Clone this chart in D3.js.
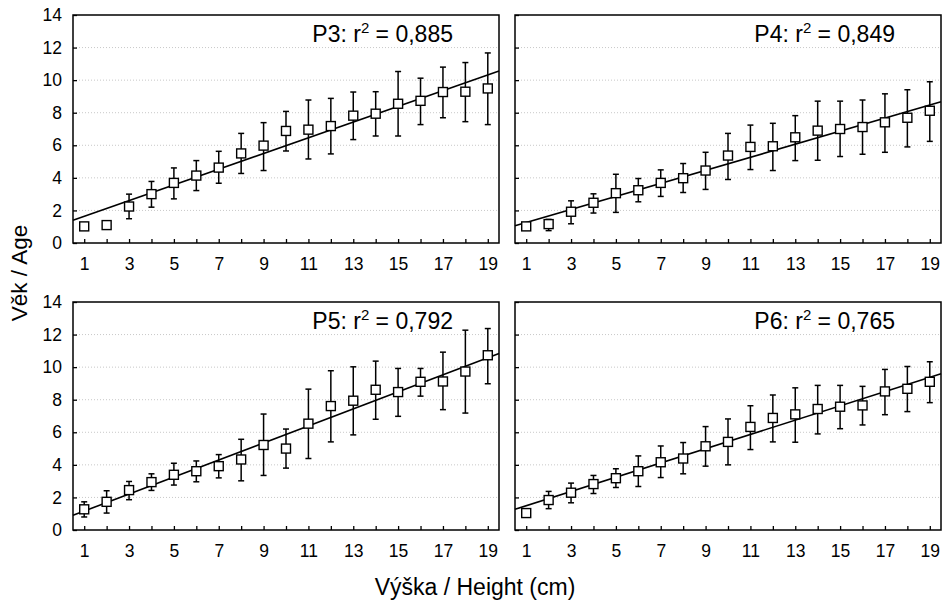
<!DOCTYPE html>
<html>
<head>
<meta charset="utf-8">
<script src="https://cdn.jsdelivr.net/npm/d3@7"></script>
<style>
  body { margin: 0; background: #fff; }
  svg { display: block; font-family: "Liberation Sans", Arial, sans-serif; }
</style>
</head>
<body>
<svg></svg>
<script>
const WIDTH = 945;
const HEIGHT = 603;

// data
const heights = [1, 2, 3, 4, 5, 6, 7, 8, 9, 10, 11, 12, 13, 14, 15, 16, 17, 18, 19];
const yTicks = [0, 2, 4, 6, 8, 10, 12, 14];

const p3Mean = [1.02, 1.1, 2.24, 3.0, 3.69, 4.14, 4.63, 5.5, 5.98, 6.88, 6.96, 7.18, 7.82, 7.94, 8.55, 8.73, 9.27, 9.29, 9.49];
const p3Low  = [null, 0.85, 1.49, 2.2, 2.71, 3.22, 3.67, 4.27, 4.45, 5.65, 5.16, 5.47, 6.35, 6.57, 6.57, 7.27, 7.69, 7.45, 7.27];
const p3High = [null, 1.3, 3.0, 3.78, 4.61, 5.06, 5.63, 6.73, 7.39, 8.08, 8.78, 8.88, 9.27, 9.29, 10.53, 10.12, 10.8, 11.08, 11.67];

const p4Mean = [1.02, 1.16, 1.92, 2.47, 3.06, 3.24, 3.69, 3.98, 4.45, 5.37, 5.9, 5.94, 6.49, 6.9, 7.0, 7.12, 7.41, 7.69, 8.12];
const p4Low  = [null, 0.76, 1.18, 1.84, 1.88, 2.53, 2.86, 3.1, 3.29, 3.9, 4.51, 4.45, 5.06, 5.08, 5.31, 5.45, 5.57, 5.9, 6.24];
const p4High = [null, 1.45, 2.59, 3.02, 4.22, 3.96, 4.49, 4.88, 5.57, 6.73, 7.24, 7.35, 7.82, 8.71, 8.71, 8.78, 9.16, 9.41, 9.9];

const p5Mean = [1.27, 1.73, 2.45, 2.94, 3.39, 3.61, 3.92, 4.33, 5.22, 5.0, 6.53, 7.61, 7.94, 8.61, 8.47, 9.1, 9.12, 9.73, 10.73];
const p5Low  = [0.8, 1.04, 1.86, 2.43, 2.76, 2.96, 3.2, 3.02, 3.35, 3.8, 4.39, 5.41, 5.84, 6.8, 6.98, 8.22, 7.39, 7.18, 8.98];
const p5High = [1.73, 2.41, 2.98, 3.45, 4.1, 4.24, 4.63, 5.57, 7.12, 6.2, 8.65, 9.78, 10.02, 10.37, 9.92, 9.92, 10.92, 12.27, 12.37];

const p6Mean = [1.04, 1.84, 2.29, 2.82, 3.18, 3.61, 4.16, 4.39, 5.14, 5.41, 6.33, 6.88, 7.1, 7.43, 7.57, 7.65, 8.51, 8.67, 9.1];
const p6Low  = [null, 1.31, 1.67, 2.24, 2.61, 2.67, 3.22, 3.45, 3.92, 4.0, 4.94, 5.41, 5.39, 5.9, 6.22, 6.45, 7.08, 7.27, 7.82];
const p6High = [null, 2.37, 2.88, 3.35, 3.76, 4.55, 5.16, 5.37, 6.35, 6.82, 7.63, 8.29, 8.73, 8.88, 8.88, 8.82, 9.86, 10.04, 10.33];

const panelNames = ["P3", "P4", "P5", "P6"];
const r2Labels = ["0,885", "0,849", "0,792", "0,765"];
const intercepts = [1.15, 0.86, 0.64, 1.05];
const slopes = [0.483, 0.4005, 0.523, 0.438];
const means = [p3Mean, p4Mean, p5Mean, p6Mean];
const lows = [p3Low, p4Low, p5Low, p6Low];
const highs = [p3High, p4High, p5High, p6High];

let svg = d3.select("svg")
    .attr("width", WIDTH)
    .attr("height", HEIGHT);

svg.append("rect")
    .attr("width", WIDTH)
    .attr("height", HEIGHT)
    .attr("fill", "#fff");

// panel boxes: [left, top]
const PW = 426;
const PH = 228;
const boxes = [[73, 15], [515, 15], [73, 302], [515, 302]];

function drawPanel(i) {
    const [left, top] = boxes[i];
    const g = svg.append("g").attr("transform", `translate(${left},${top})`);

    const x = d3.scaleLinear().domain([0.5, 19.5]).range([0, PW]);
    const y = d3.scaleLinear().domain([0, 14]).range([PH, 0]);

    // dotted grid
    g.append("g")
        .selectAll("line")
        .data(yTicks.filter(d => d > 0 && d < 14))
        .join("line")
        .attr("x1", 0)
        .attr("x2", PW)
        .attr("y1", d => y(d))
        .attr("y2", d => y(d))
        .style("stroke", "#c8c8c8")
        .style("stroke-width", 1)
        .style("stroke-dasharray", "1,2");

    let xAxis = g.append("g")
        .attr("transform", `translate(0,${PH})`)
        .call(d3.axisBottom(x)
            .tickValues(heights)
            .tickSize(-4)
            .tickPadding(15)
            .tickFormat(d => d % 2 ? d : ""));

    let yAxis = g.append("g")
        .call(d3.axisLeft(y)
            .tickValues(yTicks)
            .tickSize(-4)
            .tickPadding(11)
            .tickFormat(i % 2 === 0 ? d => d : () => ""));

    [xAxis, yAxis].forEach(a => {
        a.select(".domain").remove();
        a.selectAll(".tick line").style("stroke", "#000").style("stroke-width", 1.3);
        a.selectAll("text")
            .style("font-size", "17.5px")
            .style("fill", "#000")
            .style("font-family", "'Liberation Sans', Arial, sans-serif");
    });

    // frame
    g.append("rect")
        .attr("width", PW)
        .attr("height", PH)
        .style("fill", "none")
        .style("stroke", "#000")
        .style("stroke-width", 1.5);

    // regression line
    const line = d3.line().x(d => x(d)).y(d => y(intercepts[i] + slopes[i] * d));
    g.append("path")
        .attr("d", line([0.5, 19.5]))
        .style("fill", "none")
        .style("stroke", "#000")
        .style("stroke-width", 1.6);

    const pts = heights.map((h, j) => ({ h: h, m: means[i][j], lo: lows[i][j], hi: highs[i][j] }));
    const withBars = pts.filter(d => d.lo !== null);

    // error bars
    const bars = g.append("g")
        .style("stroke", "#000")
        .style("stroke-width", 1.5);
    bars.selectAll(".whisker")
        .data(withBars)
        .join("line")
        .attr("x1", d => x(d.h))
        .attr("x2", d => x(d.h))
        .attr("y1", d => y(d.lo))
        .attr("y2", d => y(d.hi));
    bars.selectAll(".capHi")
        .data(withBars)
        .join("line")
        .attr("x1", d => x(d.h) - 3)
        .attr("x2", d => x(d.h) + 3)
        .attr("y1", d => y(d.hi))
        .attr("y2", d => y(d.hi));
    bars.selectAll(".capLo")
        .data(withBars)
        .join("line")
        .attr("x1", d => x(d.h) - 3)
        .attr("x2", d => x(d.h) + 3)
        .attr("y1", d => y(d.lo))
        .attr("y2", d => y(d.lo));

    // square markers
    g.append("g")
        .selectAll("rect")
        .data(pts)
        .join("rect")
        .attr("x", d => x(d.h) - 4.5)
        .attr("y", d => y(d.m) - 4.5)
        .attr("width", 9)
        .attr("height", 9)
        .style("fill", "#fff")
        .style("stroke", "#000")
        .style("stroke-width", 1.4);

    // label, superscript 2
    const label = g.append("text")
        .attr("x", PW - 46)
        .attr("y", 27)
        .attr("text-anchor", "end")
        .style("font-size", "23px")
        .style("fill", "#000");
    label.append("tspan").text(panelNames[i] + ": r");
    label.append("tspan").attr("dy", -9).style("font-size", "15px").text("2");
    label.append("tspan").attr("dy", 9).text(" = " + r2Labels[i]);
}

[0, 1, 2, 3].forEach(drawPanel);

svg.append("text")
    .attr("transform", "translate(27,273) rotate(-90)")
    .attr("text-anchor", "middle")
    .style("font-size", "22.5px")
    .text("Věk / Age");

svg.append("text")
    .attr("x", 475)
    .attr("y", 595)
    .attr("text-anchor", "middle")
    .style("font-size", "23px")
    .text("Výška / Height (cm)");
</script>
</body>
</html>
